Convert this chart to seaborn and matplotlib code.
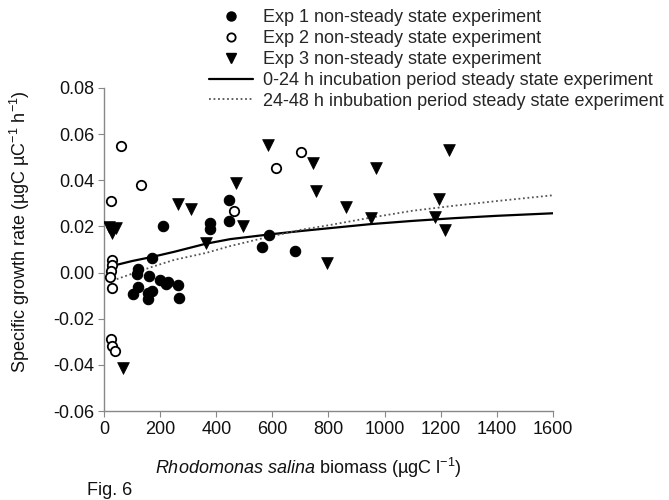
import matplotlib
matplotlib.use("Agg")
import matplotlib.pyplot as plt
from matplotlib.lines import Line2D
import seaborn as sns

sns.set_theme(style="white")
plt.rcParams['font.family'] = ['Liberation Sans', 'DejaVu Sans']
plt.rcParams['mathtext.fontset'] = 'custom'
plt.rcParams['mathtext.rm'] = 'Liberation Sans'
plt.rcParams['mathtext.it'] = 'Liberation Sans:italic'

# Exp 1 (filled circles)
exp1_x = [209, 378, 378, 447, 447, 172, 120, 116, 161, 105, 120, 156, 156, 170,
          201, 221, 227, 265, 268, 563, 587, 682]
exp1_y = [0.0202, 0.0214, 0.0190, 0.0315, 0.0225, 0.0065, 0.0014, -0.0006, -0.0015,
          -0.0093, -0.0061, -0.0090, -0.0115, -0.0079, -0.0032, -0.0050, -0.0040,
          -0.0053, -0.0109, 0.0112, 0.0163, 0.0093]

# Exp 2 (open circles)
exp2_x = [61, 24, 131, 27, 27, 26, 22, 27, 24, 30, 39, 462, 613, 703]
exp2_y = [0.0549, 0.0310, 0.0380, 0.0055, 0.0033, 0.0005, -0.0018, -0.0067,
          -0.0290, -0.0320, -0.0340, 0.0268, 0.0455, 0.0524]

# Exp 3 (filled triangles)
exp3_x = [18, 42, 27, 67, 262, 310, 363, 471, 495, 583, 744, 756, 861, 950, 795,
          971, 1230, 1195, 1180, 1215]
exp3_y = [0.0196, 0.0192, 0.0170, -0.0415, 0.0297, 0.0275, 0.0130, 0.0387, 0.0200,
          0.0553, 0.0476, 0.0353, 0.0286, 0.0235, 0.0043, 0.0455, 0.0531, 0.0319,
          0.0242, 0.0184]

# steady state curves
ss1_x = [15, 50, 100, 172, 250, 363, 450, 587, 700, 800, 950, 1100, 1250, 1400, 1600]
ss1_y = [0.0020, 0.0035, 0.0050, 0.0068, 0.0090, 0.0125, 0.0145, 0.0165, 0.0180,
         0.0192, 0.0210, 0.0224, 0.0236, 0.0246, 0.0257]
ss2_x = [30, 100, 172, 250, 363, 450, 563, 700, 800, 950, 1100, 1250, 1400, 1600]
ss2_y = [-0.0035, -0.0005, 0.0025, 0.0055, 0.0085, 0.0115, 0.0148, 0.0185, 0.0205,
         0.0238, 0.0268, 0.0290, 0.0310, 0.0335]

yticks = [-0.06, -0.04, -0.02, 0.0, 0.02, 0.04, 0.06, 0.08]

labels = ["Exp 1 non-steady state experiment",
          "Exp 2 non-steady state experiment",
          "Exp 3 non-steady state experiment",
          "0-24 h incubation period steady state experiment",
          "24-48 h inbubation period steady state experiment"]

FS = 13

fig = plt.figure(figsize=(6.69, 5.0), dpi=100)
ax = fig.add_axes([0.1555, 0.178, 0.671, 0.646])

sns.scatterplot(x=exp1_x, y=exp1_y, ax=ax, color="black", marker="o", s=56,
                edgecolor="black", linewidth=0.8, zorder=3)
sns.scatterplot(x=exp2_x, y=exp2_y, ax=ax, marker="o", s=46, facecolor="white",
                edgecolor="black", linewidth=1.3, zorder=3)
sns.scatterplot(x=exp3_x, y=exp3_y, ax=ax, color="black", marker="v", s=72,
                edgecolor="black", linewidth=0.5, zorder=3)
sns.lineplot(x=ss1_x, y=ss1_y, ax=ax, color="black", linewidth=1.6, zorder=2)
sns.lineplot(x=ss2_x, y=ss2_y, ax=ax, color="#555555", linewidth=1.3,
             linestyle=(0, (1, 1.5)), zorder=2)

ax.set_xlim(0, 1600)
ax.set_ylim(-0.06, 0.08)
ax.set_xticks(range(0, 1601, 200))
ax.set_yticks(yticks)
ax.set_yticklabels([f"{v:.2f}" for v in yticks])
for s in ["top", "right"]:
    ax.spines[s].set_visible(False)
for s in ["left", "bottom"]:
    ax.spines[s].set_color("#888888")
    ax.spines[s].set_linewidth(1.0)
ax.tick_params(axis="both", which="major", direction="out", length=4, width=0.8,
               color="#888888", labelsize=FS, labelcolor="#111111", pad=3,
               bottom=True, left=True)

ax.set_ylabel(r"Specific growth rate (µgC µC$^{-1}$ h$^{-1}$)", fontsize=FS,
              color="#111111")
ax.yaxis.set_label_coords(-0.16, 0.554)
ax.set_xlabel(r"$\it{Rhodomonas\ salina}$ biomass (µgC l$^{-1}$)", fontsize=FS,
              color="#111111")
ax.xaxis.set_label_coords(0.454, -0.14)
fig.text(0.13, 0.01, "Fig. 6", fontsize=FS, color="#111111", va="baseline")

handles = [
    Line2D([], [], marker="o", color="black", linestyle="none", markersize=6.5),
    Line2D([], [], marker="o", markerfacecolor="white", markeredgecolor="black",
           markeredgewidth=1.3, linestyle="none", markersize=6),
    Line2D([], [], marker="v", color="black", linestyle="none", markersize=7),
    Line2D([], [], color="black", linewidth=1.6),
    Line2D([], [], color="#555555", linewidth=1.3, linestyle=(0, (1, 1.5))),
]
fig.legend(handles, labels, loc="upper left", bbox_to_anchor=(0.305, 0.993),
           frameon=False, fontsize=FS, handlelength=2.4, handletextpad=0.55,
           labelspacing=0.22, borderaxespad=0.1, borderpad=0.2)

plt.savefig("out.png", dpi=100)
